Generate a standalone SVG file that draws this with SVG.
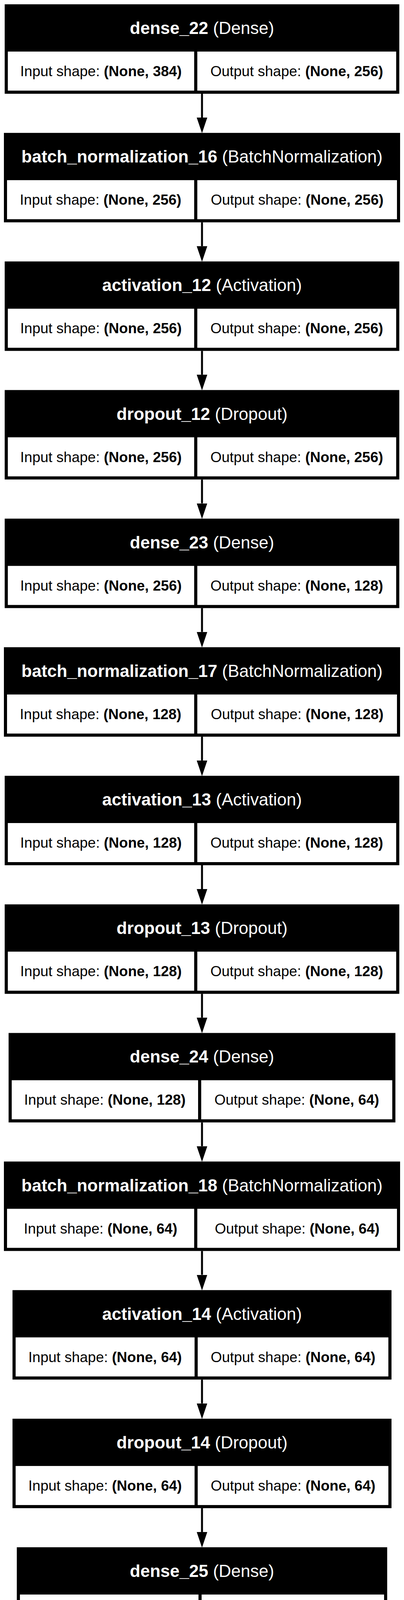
<svg xmlns="http://www.w3.org/2000/svg" width="1034" height="4201" viewBox="0 0 1034 4201">
<defs>
<style>
.bg{fill:#ffffff}
.outer{fill:#000000}
.cell{fill:#ffffff}
.hdr{font-family:"Liberation Sans",Arial,Helvetica,sans-serif;font-size:44px;fill:#ffffff;text-anchor:middle}
.body{font-family:"Liberation Sans",Arial,Helvetica,sans-serif;font-size:37px;fill:#000000;text-anchor:middle}
.b{font-weight:bold}
.edge{stroke:#000000;stroke-width:5;fill:none}
</style>
<marker id="arrow" markerUnits="userSpaceOnUse" markerWidth="40" markerHeight="28" viewBox="0 0 40 28" refX="0" refY="14" orient="auto">
<path d="M0,0.5 L40,14 L0,27.5 z" fill="#000000"/>
</marker>
</defs>
<rect class="bg" x="0" y="0" width="1034" height="4201"/>

<g id="connectors">
<path class="edge" marker-end="url(#arrow)" d="M517,240 V301"/>
<path class="edge" marker-end="url(#arrow)" d="M517,569.2 V630.2"/>
<path class="edge" marker-end="url(#arrow)" d="M517,898.3 V959.3"/>
<path class="edge" marker-end="url(#arrow)" d="M517,1227.5 V1288.5"/>
<path class="edge" marker-end="url(#arrow)" d="M517,1556.7 V1617.7"/>
<path class="edge" marker-end="url(#arrow)" d="M517,1885.9 V1946.9"/>
<path class="edge" marker-end="url(#arrow)" d="M517,2215 V2276"/>
<path class="edge" marker-end="url(#arrow)" d="M517,2544.2 V2605.2"/>
<path class="edge" marker-end="url(#arrow)" d="M517,2873.4 V2934.4"/>
<path class="edge" marker-end="url(#arrow)" d="M517,3202.5 V3263.5"/>
<path class="edge" marker-end="url(#arrow)" d="M517,3531.7 V3592.7"/>
<path class="edge" marker-end="url(#arrow)" d="M517,3860.9 V3921.9"/>
</g>

<g id="node-dense_22" transform="translate(0,11)">
<rect class="outer" x="12" y="0" width="1010" height="229"/>
<rect class="cell" x="20" y="121" width="477" height="100"/>
<rect class="cell" x="505" y="121" width="509" height="100"/>
<text class="hdr" x="517" y="76"><tspan class="b">dense_22</tspan> (Dense)</text>
<text class="body" x="258.5" y="184">Input shape: <tspan class="b">(None, 384)</tspan></text>
<text class="body" x="759.5" y="184">Output shape: <tspan class="b">(None, 256)</tspan></text>
</g>

<g id="node-batch_normalization_16" transform="translate(0,340.2)">
<rect class="outer" x="10" y="0" width="1014" height="229"/>
<rect class="cell" x="18" y="121" width="479" height="100"/>
<rect class="cell" x="505" y="121" width="511" height="100"/>
<text class="hdr" x="517" y="76"><tspan class="b">batch_normalization_16</tspan> (BatchNormalization)</text>
<text class="body" x="257.5" y="184">Input shape: <tspan class="b">(None, 256)</tspan></text>
<text class="body" x="760.5" y="184">Output shape: <tspan class="b">(None, 256)</tspan></text>
</g>

<g id="node-activation_12" transform="translate(0,669.3)">
<rect class="outer" x="12" y="0" width="1010" height="229"/>
<rect class="cell" x="20" y="121" width="477" height="100"/>
<rect class="cell" x="505" y="121" width="509" height="100"/>
<text class="hdr" x="517" y="76"><tspan class="b">activation_12</tspan> (Activation)</text>
<text class="body" x="258.5" y="184">Input shape: <tspan class="b">(None, 256)</tspan></text>
<text class="body" x="759.5" y="184">Output shape: <tspan class="b">(None, 256)</tspan></text>
</g>

<g id="node-dropout_12" transform="translate(0,998.5)">
<rect class="outer" x="12" y="0" width="1010" height="229"/>
<rect class="cell" x="20" y="121" width="477" height="100"/>
<rect class="cell" x="505" y="121" width="509" height="100"/>
<text class="hdr" x="517" y="76"><tspan class="b">dropout_12</tspan> (Dropout)</text>
<text class="body" x="258.5" y="184">Input shape: <tspan class="b">(None, 256)</tspan></text>
<text class="body" x="759.5" y="184">Output shape: <tspan class="b">(None, 256)</tspan></text>
</g>

<g id="node-dense_23" transform="translate(0,1327.7)">
<rect class="outer" x="12" y="0" width="1010" height="229"/>
<rect class="cell" x="20" y="121" width="477" height="100"/>
<rect class="cell" x="505" y="121" width="509" height="100"/>
<text class="hdr" x="517" y="76"><tspan class="b">dense_23</tspan> (Dense)</text>
<text class="body" x="258.5" y="184">Input shape: <tspan class="b">(None, 256)</tspan></text>
<text class="body" x="759.5" y="184">Output shape: <tspan class="b">(None, 128)</tspan></text>
</g>

<g id="node-batch_normalization_17" transform="translate(0,1656.9)">
<rect class="outer" x="10" y="0" width="1014" height="229"/>
<rect class="cell" x="18" y="121" width="479" height="100"/>
<rect class="cell" x="505" y="121" width="511" height="100"/>
<text class="hdr" x="517" y="76"><tspan class="b">batch_normalization_17</tspan> (BatchNormalization)</text>
<text class="body" x="257.5" y="184">Input shape: <tspan class="b">(None, 128)</tspan></text>
<text class="body" x="760.5" y="184">Output shape: <tspan class="b">(None, 128)</tspan></text>
</g>

<g id="node-activation_13" transform="translate(0,1986)">
<rect class="outer" x="12" y="0" width="1010" height="229"/>
<rect class="cell" x="20" y="121" width="477" height="100"/>
<rect class="cell" x="505" y="121" width="509" height="100"/>
<text class="hdr" x="517" y="76"><tspan class="b">activation_13</tspan> (Activation)</text>
<text class="body" x="258.5" y="184">Input shape: <tspan class="b">(None, 128)</tspan></text>
<text class="body" x="759.5" y="184">Output shape: <tspan class="b">(None, 128)</tspan></text>
</g>

<g id="node-dropout_13" transform="translate(0,2315.2)">
<rect class="outer" x="12" y="0" width="1010" height="229"/>
<rect class="cell" x="20" y="121" width="477" height="100"/>
<rect class="cell" x="505" y="121" width="509" height="100"/>
<text class="hdr" x="517" y="76"><tspan class="b">dropout_13</tspan> (Dropout)</text>
<text class="body" x="258.5" y="184">Input shape: <tspan class="b">(None, 128)</tspan></text>
<text class="body" x="759.5" y="184">Output shape: <tspan class="b">(None, 128)</tspan></text>
</g>

<g id="node-dense_24" transform="translate(0,2644.4)">
<rect class="outer" x="22" y="0" width="990" height="229"/>
<rect class="cell" x="30" y="121" width="477" height="100"/>
<rect class="cell" x="515" y="121" width="489" height="100"/>
<text class="hdr" x="517" y="76"><tspan class="b">dense_24</tspan> (Dense)</text>
<text class="body" x="268.5" y="184">Input shape: <tspan class="b">(None, 128)</tspan></text>
<text class="body" x="759.5" y="184">Output shape: <tspan class="b">(None, 64)</tspan></text>
</g>

<g id="node-batch_normalization_18" transform="translate(0,2973.5)">
<rect class="outer" x="10" y="0" width="1014" height="229"/>
<rect class="cell" x="18" y="121" width="479" height="100"/>
<rect class="cell" x="505" y="121" width="511" height="100"/>
<text class="hdr" x="517" y="76"><tspan class="b">batch_normalization_18</tspan> (BatchNormalization)</text>
<text class="body" x="257.5" y="184">Input shape: <tspan class="b">(None, 64)</tspan></text>
<text class="body" x="760.5" y="184">Output shape: <tspan class="b">(None, 64)</tspan></text>
</g>

<g id="node-activation_14" transform="translate(0,3302.7)">
<rect class="outer" x="32" y="0" width="970" height="229"/>
<rect class="cell" x="40" y="121" width="458" height="100"/>
<rect class="cell" x="506" y="121" width="488" height="100"/>
<text class="hdr" x="517" y="76"><tspan class="b">activation_14</tspan> (Activation)</text>
<text class="body" x="269" y="184">Input shape: <tspan class="b">(None, 64)</tspan></text>
<text class="body" x="750" y="184">Output shape: <tspan class="b">(None, 64)</tspan></text>
</g>

<g id="node-dropout_14" transform="translate(0,3631.9)">
<rect class="outer" x="32" y="0" width="970" height="229"/>
<rect class="cell" x="40" y="121" width="458" height="100"/>
<rect class="cell" x="506" y="121" width="488" height="100"/>
<text class="hdr" x="517" y="76"><tspan class="b">dropout_14</tspan> (Dropout)</text>
<text class="body" x="269" y="184">Input shape: <tspan class="b">(None, 64)</tspan></text>
<text class="body" x="750" y="184">Output shape: <tspan class="b">(None, 64)</tspan></text>
</g>

<g id="node-dense_25" transform="translate(0,3961)">
<rect class="outer" x="43" y="0" width="948" height="229"/>
<rect class="cell" x="51" y="121" width="457" height="100"/>
<rect class="cell" x="516" y="121" width="467" height="100"/>
<text class="hdr" x="517" y="76"><tspan class="b">dense_25</tspan> (Dense)</text>
<text class="body" x="279.5" y="184">Input shape: <tspan class="b">(None, 64)</tspan></text>
<text class="body" x="749.5" y="184">Output shape: <tspan class="b">(None, 1)</tspan></text>
</g>
</svg>
